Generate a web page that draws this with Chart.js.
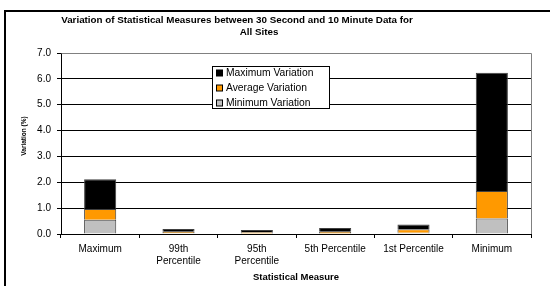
<!DOCTYPE html>
<html>
<head>
<meta charset="utf-8">
<script src="https://cdn.jsdelivr.net/npm/chart.js@4.4.0/dist/chart.umd.min.js"></script>
<style>
  html, body { margin: 0; padding: 0; background: #fff; }
  #wrap { width: 550px; height: 286px; }
</style>
</head>
<body>
<div id="wrap"><canvas id="chart-area" width="550" height="286"></canvas></div>
<script>
var categories = [['Maximum'], ['99th', 'Percentile'], ['95th', 'Percentile'], '5th Percentile', '1st Percentile', 'Minimum'];
// stacked segment heights (%), bottom to top
var minVariation = [0.55, 0.03, 0.02, 0.02, 0.05, 0.60];
var avgVariation = [0.42, 0.06, 0.05, 0.07, 0.13, 1.06];
var maxVariation = [1.15, 0.10, 0.08, 0.14, 0.19, 4.58];
var titleLines = ['Variation of Statistical Measures between 30 Second and 10 Minute Data for', 'All Sites'];
var yTitle = 'Variation (%)';

var FONT = 'Arial, "Liberation Sans", sans-serif';

var decorations = {
  id: 'decorations',
  beforeDraw: function(chart) {
    var ctx = chart.ctx;
    ctx.save();
    ctx.fillStyle = '#fff';
    ctx.fillRect(0, 0, chart.width, chart.height);
    // outer frame (left + top)
    ctx.strokeStyle = '#000';
    ctx.lineWidth = 2;
    ctx.beginPath();
    ctx.moveTo(5, 286);
    ctx.lineTo(5, 11);
    ctx.lineTo(550, 11);
    ctx.stroke();
    // title
    ctx.fillStyle = '#000';
    ctx.font = 'bold 9.8px ' + FONT;
    ctx.textAlign = 'center';
    ctx.textBaseline = 'middle';
    ctx.fillText(titleLines[0], 237, 20);
    ctx.fillText(titleLines[1], 259, 32.5);
    // y axis title
    ctx.translate(24, 136);
    ctx.rotate(-Math.PI / 2);
    ctx.font = 'bold 6.5px ' + FONT;
    ctx.fillText(yTitle, 0, 0);
    ctx.restore();
  },
  afterDatasetsDraw: function(chart) {
    var ctx = chart.ctx, a = chart.chartArea;
    ctx.save();
    // plot border top/right in gray
    ctx.strokeStyle = '#808080';
    ctx.lineWidth = 1;
    ctx.beginPath();
    ctx.moveTo(a.left + 0.5, a.top + 0.5);
    ctx.lineTo(a.right + 0.5, a.top + 0.5);
    ctx.lineTo(a.right + 0.5, a.bottom);
    ctx.stroke();

    // legend box inside the plot
    var ds = chart.data.datasets;
    var order = [2, 1, 0];
    var bx = 212.5, by = 66.5, bw = 117, bh = 42;
    ctx.fillStyle = '#fff';
    ctx.fillRect(bx, by, bw, bh);
    ctx.strokeStyle = '#000';
    ctx.strokeRect(bx, by, bw, bh);
    ctx.font = '10.3px ' + FONT;
    ctx.textAlign = 'left';
    ctx.textBaseline = 'middle';
    order.forEach(function(idx, i) {
      var y = 73 + i * 15;
      ctx.fillStyle = ds[idx].backgroundColor;
      ctx.fillRect(216.5, y - 3, 6, 6);
      ctx.strokeStyle = '#000';
      ctx.strokeRect(216.5, y - 3, 6, 6);
      ctx.fillStyle = '#000';
      ctx.fillText(ds[idx].label, 226, y + 0.5);
    });
    ctx.restore();
  }
};

var config = {
  type: 'bar',
  data: {
    labels: categories,
    datasets: [{
      label: 'Minimum Variation',
      data: minVariation,
      backgroundColor: '#C0C0C0',
      borderColor: '#404040',
      borderWidth: 1
    }, {
      label: 'Average Variation',
      data: avgVariation,
      backgroundColor: '#FF9900',
      borderColor: '#404040',
      borderWidth: 1
    }, {
      label: 'Maximum Variation',
      data: maxVariation,
      backgroundColor: '#000000',
      borderColor: '#404040',
      borderWidth: 1
    }]
  },
  options: {
    responsive: false,
    animation: false,
    categoryPercentage: 1,
    barPercentage: 0.41,
    layout: { padding: { top: 53, right: 19, bottom: 0, left: 0 } },
    plugins: {
      legend: { display: false },
      title: { display: false },
      tooltip: { enabled: false }
    },
    scales: {
      x: {
        stacked: true,
        offset: true,
        grid: { offset: true, drawOnChartArea: false, drawTicks: true, tickLength: 4, color: '#000' },
        border: { color: '#000', width: 1 },
        ticks: {
          color: '#000', font: { family: FONT, size: 10 }, padding: 5,
          maxRotation: 0, autoSkip: false
        },
        title: {
          display: true, text: 'Statistical Measure', color: '#000',
          font: { family: FONT, size: 9.5, weight: 'bold' },
          padding: { top: 0, bottom: 3 }
        },
        afterFit: function(scale) { scale.height = 52; }
      },
      y: {
        stacked: true,
        min: 0,
        max: 7,
        grid: { color: '#000', lineWidth: 1, tickLength: 4 },
        border: { color: '#000', width: 1 },
        ticks: {
          stepSize: 1, color: '#000', font: { family: FONT, size: 10 }, padding: 6,
          callback: function(v) { return v.toFixed(1); }
        },
        afterFit: function(scale) { scale.width = 61; }
      }
    }
  },
  plugins: [decorations]
};

var ctx = document.getElementById('chart-area').getContext('2d');
window.myChart = new Chart(ctx, config);
</script>
</body>
</html>
